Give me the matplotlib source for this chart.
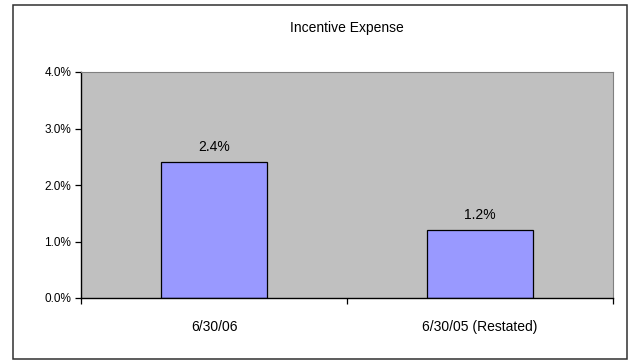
import matplotlib.pyplot as plt
from matplotlib.patches import Rectangle
from matplotlib.ticker import FixedLocator, FuncFormatter

plt.rcParams['font.family'] = ['Liberation Sans', 'DejaVu Sans']

# bar data
categories = ["6/30/06", "6/30/05 (Restated)"]
values = [2.4, 1.2]
value_labels = ["2.4%", "1.2%"]
y_ticks = [0.0, 1.0, 2.0, 3.0, 4.0]

W, H = 632, 360
fig = plt.figure(figsize=(W / 100, H / 100), dpi=100)
fig.patch.set_facecolor("white")

# outer chart frame
fig.patches.append(Rectangle((13 / W, 1.5 / H), 614 / W, 354 / H, transform=fig.transFigure,
                             fill=False, edgecolor="#303030", linewidth=1.1))

# plot area
left, right, top, bottom = 81, 613, 72, 298
ax = fig.add_axes([left / W, 1 - bottom / H, (right - left) / W, (bottom - top) / H])
ax.set_facecolor("#C0C0C0")

x = range(len(categories))
ax.bar(x, values, width=0.4, color="#9999FF", edgecolor="black", linewidth=0.9, zorder=2)

for xi, v, lab in zip(x, values, value_labels):
    ax.text(xi, v + 0.14, lab, ha="center", va="bottom", fontsize=10)

ax.set_xlim(-0.5, len(categories) - 0.5)
ax.set_ylim(0, 4)

ax.yaxis.set_major_locator(FixedLocator(y_ticks))
ax.yaxis.set_major_formatter(FuncFormatter(lambda v, p: f"{v:.1f}%"))
ax.tick_params(axis="y", length=4, width=0.9, direction="out", labelsize=8.5, pad=3)

ax.set_xticks(list(x))
ax.set_xticklabels(categories)
ax.tick_params(axis="x", which="major", length=0, labelsize=10, pad=16)
ax.set_xticks([-0.5, 0.5, len(categories) - 0.5], minor=True)
ax.tick_params(axis="x", which="minor", length=4, width=0.9, direction="out")

for side in ("left", "bottom"):
    ax.spines[side].set_color("black")
    ax.spines[side].set_linewidth(1.0)
for side in ("top", "right"):
    ax.spines[side].set_color("#808080")
    ax.spines[side].set_linewidth(0.8)

fig.text((left + right) / 2 / W, 1 - 28 / H, "Incentive Expense", ha="center", va="center", fontsize=10)

fig.savefig("out.png", dpi=100)
